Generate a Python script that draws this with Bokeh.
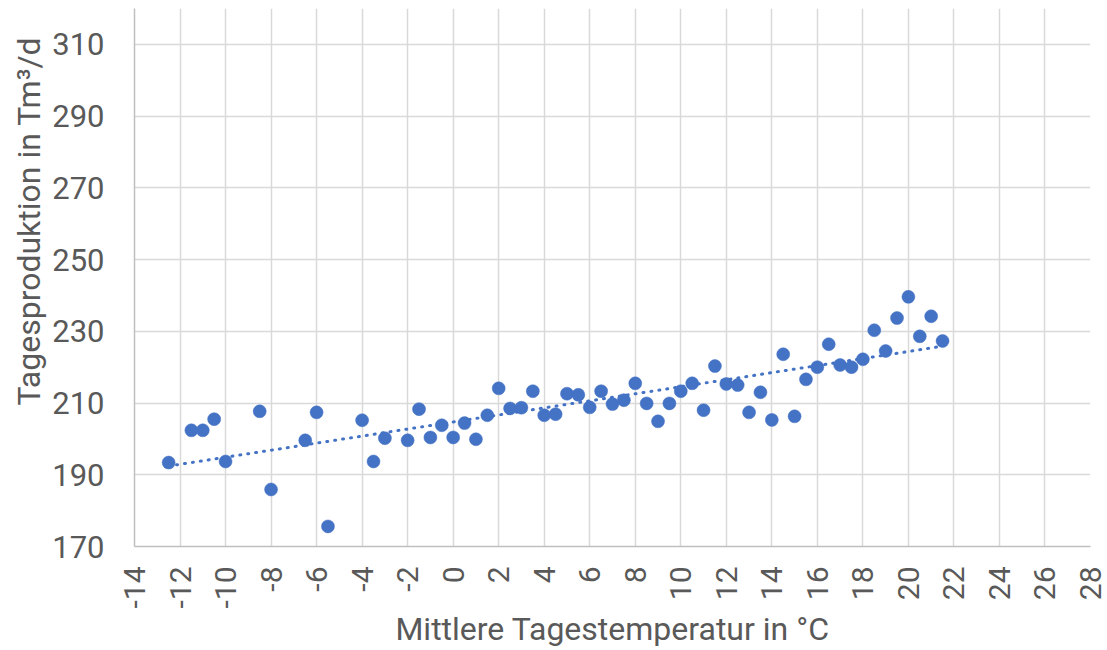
import numpy as np
from bokeh.plotting import figure
from bokeh.models import FixedTicker, Range1d, ColumnDataSource, Title
from bokeh.embed import file_html
from bokeh.resources import INLINE

# Data
temperature = [-12.5, -11.5, -11.0, -10.5, -10.0, -8.5, -8.0, -6.5, -6.0, -5.5,
               -4.0, -3.5, -3.0, -2.0, -1.5, -1.0, -0.5, 0.0, 0.5, 1.0,
               1.5, 2.0, 2.5, 3.0, 3.5, 4.0, 4.5, 5.0, 5.5, 6.0,
               6.5, 7.0, 7.5, 8.0, 8.5, 9.0, 9.5, 10.0, 10.5, 11.0,
               11.5, 12.0, 12.5, 13.0, 13.5, 14.0, 14.5, 15.0, 15.5, 16.0,
               16.5, 17.0, 17.5, 18.0, 18.5, 19.0, 19.5, 20.0, 20.5, 21.0, 21.5]
production = [193.4, 202.4, 202.4, 205.5, 193.7, 207.7, 185.9, 199.6, 207.4, 175.6,
              205.2, 193.7, 200.2, 199.6, 208.3, 200.4, 203.8, 200.4, 204.4, 199.9,
              206.6, 214.1, 208.5, 208.7, 213.3, 206.6, 206.9, 212.6, 212.3, 208.8,
              213.3, 209.7, 210.8, 215.5, 209.9, 204.9, 209.9, 213.3, 215.5, 208.0,
              220.3, 215.3, 215.0, 207.4, 213.0, 205.3, 223.6, 206.3, 216.6, 220.0,
              226.4, 220.6, 220.0, 222.2, 230.3, 224.5, 233.7, 239.6, 228.6, 234.2, 227.3]
x_ticks = list(range(-14, 29, 2))
y_ticks = list(range(170, 311, 20))

x_title = "Mittlere Tagestemperatur in °C"
y_title = "Tagesproduktion in Tm³/d"

FONT = "Roboto"
TXT = "#595959"
BLUE = "#4472C4"

X0, X1, Y0, Y1 = -14, 28, 170, 320

p = figure(width=1107, height=650, output_backend="svg", toolbar_location=None,
           x_range=Range1d(X0, X1), y_range=Range1d(Y0, Y1),
           min_border_left=134, min_border_right=17, min_border_top=8, min_border_bottom=104)
p.outline_line_color = None
p.background_fill_color = "white"
p.border_fill_color = "white"

# trendline (linear least squares from the data)
slope, intercept = np.polyfit(temperature, production, 1)
tx = np.array([min(temperature), max(temperature)])
p.line(tx, slope * tx + intercept, line_color=BLUE, line_width=3,
       line_dash="1 7", line_cap="round")

src = ColumnDataSource(dict(x=temperature, y=production))
p.scatter("x", "y", source=src, size=13, fill_color=BLUE, line_color=BLUE, line_width=0.5)

xa = p.xaxis[0]
ya = p.yaxis[0]
xa.ticker = FixedTicker(ticks=x_ticks)
ya.ticker = FixedTicker(ticks=y_ticks)
xa.major_label_overrides = {t: str(t) for t in x_ticks}
xa.major_label_orientation = np.pi / 2

for ax in (xa, ya):
    ax.axis_line_color = "#BFBFBF"
    ax.axis_line_width = 1.5
    ax.major_tick_line_color = None
    ax.minor_tick_line_color = None
    ax.major_tick_out = 0
    ax.major_tick_in = 0
    ax.major_label_text_font = FONT
    ax.major_label_text_color = TXT
    ax.axis_label_text_font = FONT
    ax.axis_label_text_font_size = "32px"
    ax.axis_label_text_color = TXT
    ax.axis_label_text_font_style = "normal"

xa.major_label_text_font_size = "30px"
ya.major_label_text_font_size = "31px"
xa.axis_label = x_title
xa.major_label_standoff = 20
xa.axis_label_standoff = -2
ya.major_label_standoff = 30

# y-axis title as a vertical side title, starting somewhat above the frame bottom as in the original
p.add_layout(Title(text=y_title, align="left", offset=141, standoff=4,
                   text_font=FONT, text_font_size="32px", text_font_style="normal",
                   text_color=TXT), "left")

p.xgrid.grid_line_color = "#D9D9D9"
p.ygrid.grid_line_color = "#D9D9D9"
p.xgrid.grid_line_width = 1.5
p.ygrid.grid_line_width = 1.5

open("out.html", "w").write(file_html(p, INLINE))
